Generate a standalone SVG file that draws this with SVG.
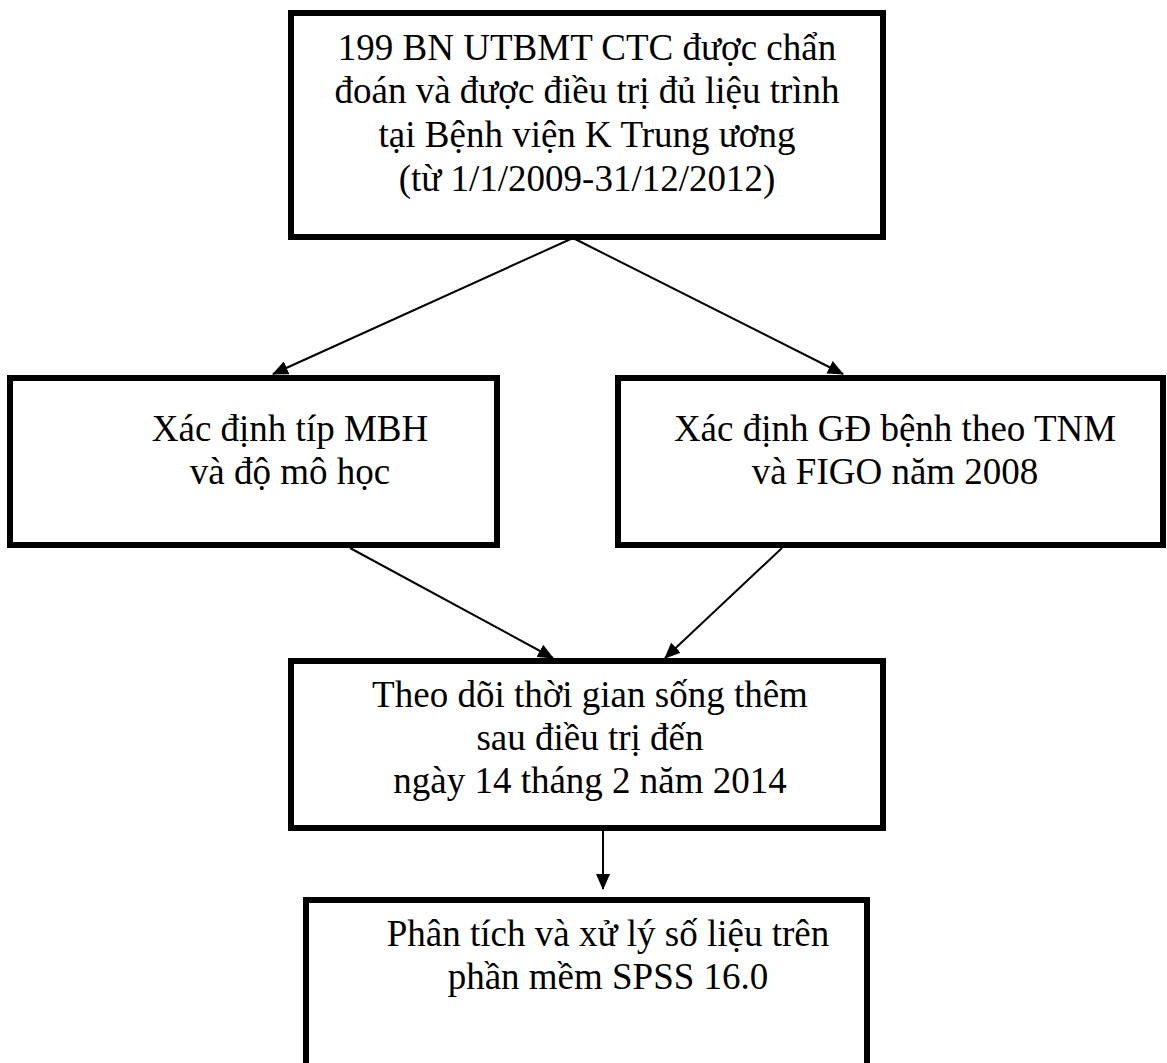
<svg xmlns="http://www.w3.org/2000/svg" width="1167" height="1063" viewBox="0 0 1167 1063">
<style>
.box{fill:#fff;stroke:#000;stroke-width:6}
.t{font-family:"Liberation Serif","Times New Roman",serif;font-size:37px;fill:#000;text-anchor:middle}
.c{stroke:#000;stroke-width:2;fill:none;marker-end:url(#ah)}
</style>
<defs>
<marker id="ah" markerUnits="userSpaceOnUse" markerWidth="16" markerHeight="14" refX="15" refY="7" orient="auto">
<path d="M0,0 L16,7 L0,14 Z" fill="#000"/>
</marker>
</defs>
<rect width="1167" height="1063" fill="#fff"/>
<g id="connectors">
<line class="c" x1="573" y1="238" x2="273" y2="374"/>
<line class="c" x1="573" y1="238" x2="843" y2="374"/>
<line class="c" x1="350" y1="548" x2="553" y2="658"/>
<line class="c" x1="782" y1="548" x2="665" y2="658"/>
<line class="c" x1="603" y1="831" x2="603" y2="889"/>
</g>
<g id="n1">
<rect class="box" x="291" y="13" width="592" height="224"/>
<text class="t" x="587" y="60">199 BN UTBMT CTC được chẩn</text>
<text class="t" x="587" y="103">đoán và được điều trị đủ liệu trình</text>
<text class="t" x="587" y="147">tại Bệnh viện K Trung ương</text>
<text class="t" x="587" y="191">(từ 1/1/2009-31/12/2012)</text>
</g>
<g id="n2">
<rect class="box" x="10" y="378" width="487" height="167"/>
<text class="t" x="290" y="441">Xác định típ MBH</text>
<text class="t" x="290" y="484">và độ mô học</text>
</g>
<g id="n3">
<rect class="box" x="618" y="378" width="545" height="167"/>
<text class="t" x="895" y="441">Xác định GĐ bệnh theo TNM</text>
<text class="t" x="895" y="484">và FIGO năm 2008</text>
</g>
<g id="n4">
<rect class="box" x="291" y="661" width="592" height="167"/>
<text class="t" x="590" y="707">Theo dõi thời gian sống thêm</text>
<text class="t" x="590" y="750">sau điều trị đến</text>
<text class="t" x="590" y="793">ngày 14 tháng 2 năm 2014</text>
</g>
<g id="n5">
<rect class="box" x="306" y="900" width="561" height="180"/>
<text class="t" x="608" y="946">Phân tích và xử lý số liệu trên</text>
<text class="t" x="608" y="989">phần mềm SPSS 16.0</text>
</g>
</svg>
